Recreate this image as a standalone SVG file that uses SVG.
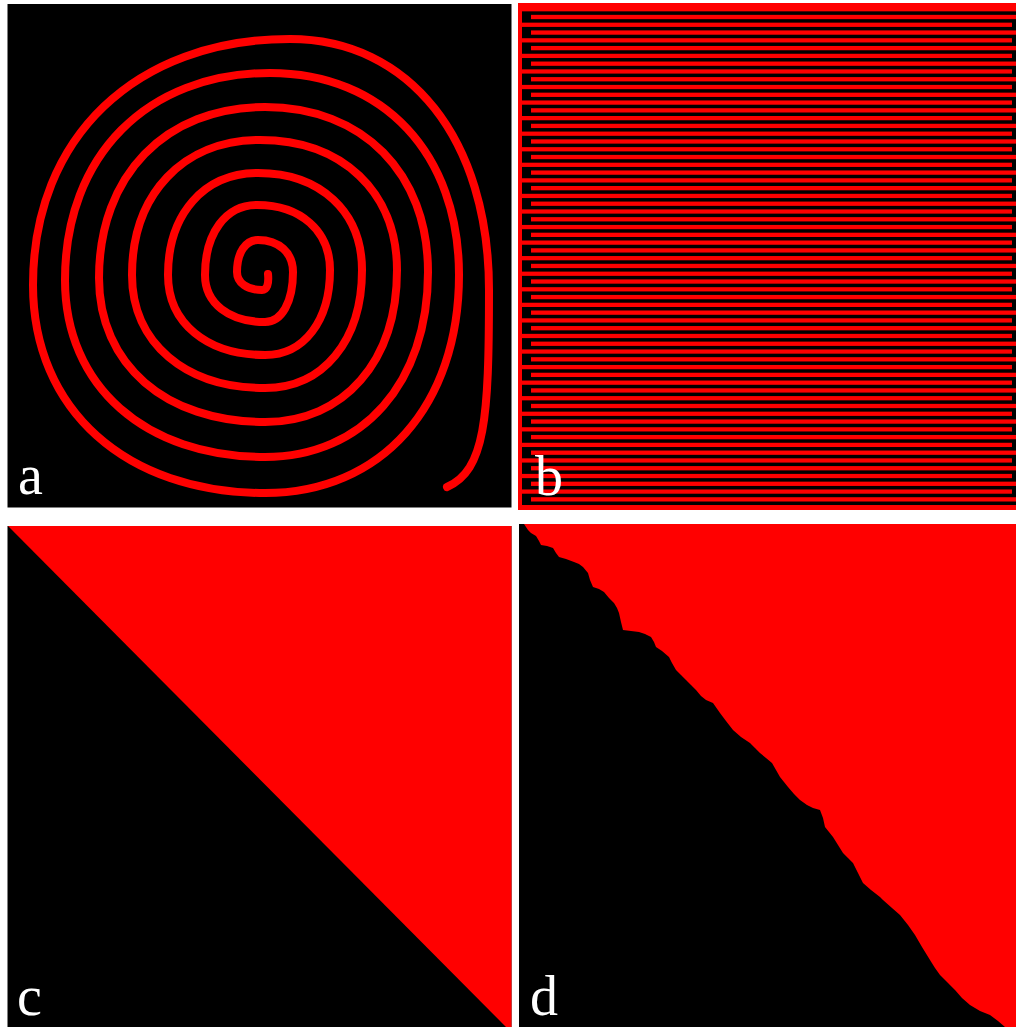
<svg xmlns="http://www.w3.org/2000/svg" xmlns:xlink="http://www.w3.org/1999/xlink" width="1016" height="1027" viewBox="0 0 1016 1027">
<style>
.blk{fill:#000}
.red{fill:#ff0000}
.lbl{font-family:"Liberation Serif","Times New Roman",serif;font-size:56px;fill:#fff}
</style>
<defs>
<rect id="ul" x="531" y="0" width="485" height="4.3" fill="#ff0000"/>
<rect id="al" x="518" y="0" width="494" height="4.26" fill="#ff0000"/>
</defs>
<rect width="1016" height="1027" fill="#fff"/>
<g id="panel-a">
<rect class="blk" x="7.5" y="4" width="504" height="503.5"/>
<path fill="none" stroke="#ff0000" stroke-width="8" stroke-linecap="round" stroke-linejoin="round" d="M268 274 C269 284 267 290 262 290 C247 290 237 282.8 237 272 C237 252.8 245.4 240 258 240 C279 240 293 252.8 293 272 C293 302 281.8 322 265 322 C229 322 205 303.2 205 275 C205 233 225.8 205 257 205 C300.8 205 330 231 330 270 C330 321 304 355 265 355 C206.8 355 168 323 168 275 C168 213.8 204 173 258 173 C320.4 173 362 211.8 362 270 C362 340.8 323.2 388 265 388 C185.2 388 132 342.8 132 275 C132 194 183.2 140 260 140 C342.2 140 397 192 397 270 C397 361.2 344.2 422 265 422 C165.4 422 99 364.4 99 278 C99 175.4 165.4 107 265 107 C362.8 107 428 173 428 272 C428 383 362.8 457 265 457 C145 457 65 386.2 65 280 C65 155.8 147 73 270 73 C383.4 73 459 153.8 459 275 C459 405.8 381.4 493 265 493 C125.8 493 33 409.8 33 285 C33 137.4 135.8 39 290 39 C409.4 39 489 139.4 489 290 C489 420 485 470 447 487"/>
<text class="lbl" x="18" y="494">a</text>
</g>
<g id="panel-b">
<rect class="red" x="518" y="3" width="498" height="507"/>
<rect class="blk" x="522" y="11.35" width="494" height="493.66"/>
<use xlink:href="#ul" y="14.85"/><use xlink:href="#ul" y="30.41"/><use xlink:href="#ul" y="45.97"/><use xlink:href="#ul" y="61.53"/>
<use xlink:href="#ul" y="77.09"/><use xlink:href="#ul" y="92.65"/><use xlink:href="#ul" y="108.21"/><use xlink:href="#ul" y="123.77"/>
<use xlink:href="#ul" y="139.33"/><use xlink:href="#ul" y="154.89"/><use xlink:href="#ul" y="170.45"/><use xlink:href="#ul" y="186.01"/>
<use xlink:href="#ul" y="201.57"/><use xlink:href="#ul" y="217.13"/><use xlink:href="#ul" y="232.69"/><use xlink:href="#ul" y="248.25"/>
<use xlink:href="#ul" y="263.81"/><use xlink:href="#ul" y="279.37"/><use xlink:href="#ul" y="294.93"/><use xlink:href="#ul" y="310.49"/>
<use xlink:href="#ul" y="326.05"/><use xlink:href="#ul" y="341.61"/><use xlink:href="#ul" y="357.17"/><use xlink:href="#ul" y="372.73"/>
<use xlink:href="#ul" y="388.29"/><use xlink:href="#ul" y="403.85"/><use xlink:href="#ul" y="419.41"/><use xlink:href="#ul" y="434.97"/>
<use xlink:href="#ul" y="450.53"/><use xlink:href="#ul" y="466.09"/><use xlink:href="#ul" y="481.65"/><use xlink:href="#ul" y="497.21"/>
<use xlink:href="#al" y="22.65"/><use xlink:href="#al" y="38.21"/><use xlink:href="#al" y="53.77"/><use xlink:href="#al" y="69.33"/>
<use xlink:href="#al" y="84.89"/><use xlink:href="#al" y="100.45"/><use xlink:href="#al" y="116.01"/><use xlink:href="#al" y="131.57"/>
<use xlink:href="#al" y="147.13"/><use xlink:href="#al" y="162.69"/><use xlink:href="#al" y="178.25"/><use xlink:href="#al" y="193.81"/>
<use xlink:href="#al" y="209.37"/><use xlink:href="#al" y="224.93"/><use xlink:href="#al" y="240.49"/><use xlink:href="#al" y="256.05"/>
<use xlink:href="#al" y="271.61"/><use xlink:href="#al" y="287.17"/><use xlink:href="#al" y="302.73"/><use xlink:href="#al" y="318.29"/>
<use xlink:href="#al" y="333.85"/><use xlink:href="#al" y="349.41"/><use xlink:href="#al" y="364.97"/><use xlink:href="#al" y="380.53"/>
<use xlink:href="#al" y="396.09"/><use xlink:href="#al" y="411.65"/><use xlink:href="#al" y="427.21"/><use xlink:href="#al" y="442.77"/>
<use xlink:href="#al" y="458.33"/><use xlink:href="#al" y="473.89"/><use xlink:href="#al" y="489.45"/>
<text class="lbl" x="535" y="495">b</text>
</g>
<g id="panel-c">
<rect class="blk" x="7.5" y="526" width="504" height="501"/>
<polygon class="red" points="8,526 511.5,526 511.5,1027 506,1027"/>
<text class="lbl" x="17" y="1015">c</text>
</g>
<g id="panel-d">
<rect class="blk" x="519" y="524" width="497" height="503"/>
<polygon class="red" points="524,524 1016,524 1016,1027 1005,1027 998,1021 990,1015 980,1011 970,1005 962,998 955,990 948,983 940,975 935,968 930,960 922,947 915,935 908,925 900,915 892,908 883,900 880,897 871,890 863,883 858,873 853,863 848,858 843,853 838,845 833,837 829,832 825,827 823,818 820,810 813,808 807,805 800,800 794,794 788,787 784,782 780,777 776,770 772,763 766,758 760,753 755,748 750,743 741,737 733,730 726,721 720,713 713,703 706,700 701,696 696,690 691,685 686,680 681,675 676,670 672,663 669,657 662,651 656,647 654,642 651,637 645,634 639,632 631,631 623,630 621,622 619,613 617,608 614,603 609,598 604,592 599,589 593,587 590,580 588,573 583,567 579,564 574,562 566,559 559,557 556,553 553,548 547,546 541,545 539,541 536,536 531,533 528,530"/>
<text class="lbl" x="530" y="1015">d</text>
</g>
</svg>
